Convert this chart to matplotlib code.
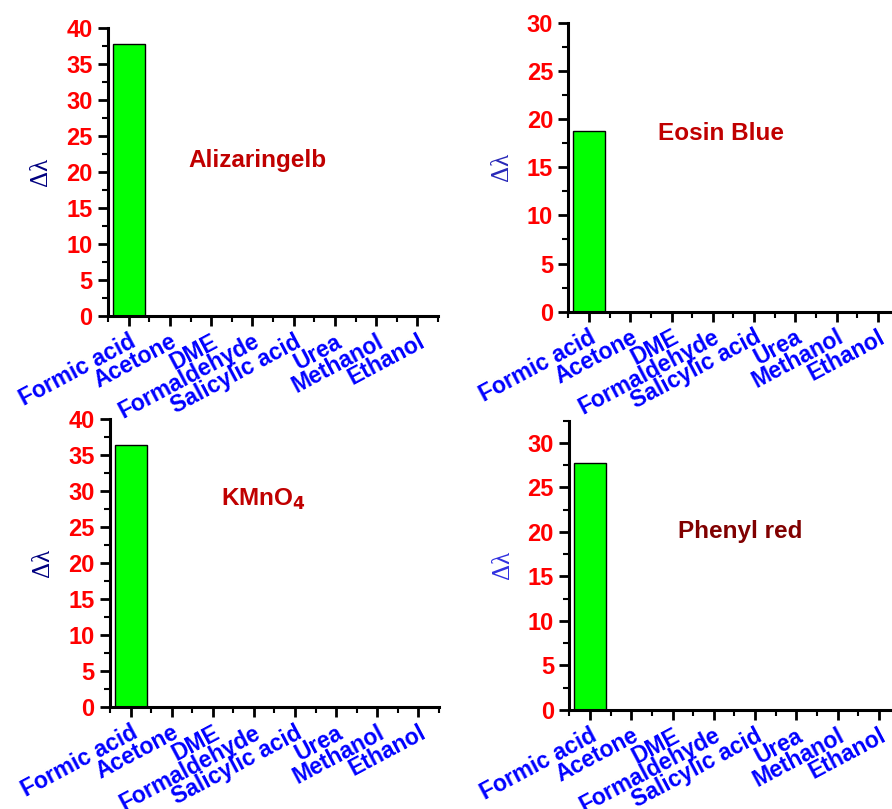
import matplotlib
matplotlib.use("Agg")
import matplotlib.pyplot as plt
from matplotlib.ticker import MultipleLocator

categories = ["Formic acid", "Acetone", "DME", "Formaldehyde",
              "Salicylic acid", "Urea", "Methanol", "Ethanol"]

alizaringelb = [37.7, 0, 0, 0, 0, 0, 0, 0]
eosin_blue = [18.8, 0, 0, 0, 0, 0, 0, 0]
kmno4 = [36.4, 0, 0, 0, 0, 0, 0, 0]
phenyl_red = [27.8, 0, 0, 0, 0, 0, 0, 0]

plt.rcParams['font.family'] = ['Liberation Sans', 'DejaVu Sans']

fig = plt.figure(figsize=(8.92, 8.09), dpi=100)

panels = [
    # values, title, axes rect, ylim, title pos, title colour, ylabel colour
    (alizaringelb, "Alizaringelb", [0.1211, 0.6094, 0.370, 0.3564], (0, 40), (3.12, 21.6), "#c00000", "#000080"),
    (eosin_blue, "Eosin Blue", [0.6371, 0.6147, 0.3704, 0.3572], (0, 30), (3.2, 18.5), "#c00000", "#2828b8"),
    (kmno4, "KMnO$_\\mathbf{4}$", [0.1233, 0.1257, 0.3688, 0.3564], (0, 40), (3.24, 28.8), "#c00000", "#000080"),
    (phenyl_red, "Phenyl red", [0.6382, 0.1224, 0.3704, 0.3576], (0, 32.5), (3.63, 20.1), "#800000", "#3030e0"),
]

x = list(range(len(categories)))

for vals, title, rect, ylim, tpos, tcol, lcol in panels:
    ax = fig.add_axes(rect)
    ax.bar(x, vals, width=0.78, color="#00ff00", edgecolor="black", linewidth=1)
    ax.set_xlim(-0.5, 7.5)
    ax.set_ylim(*ylim)
    for s in ["top", "right"]:
        ax.spines[s].set_visible(False)
    for s in ["left", "bottom"]:
        ax.spines[s].set_linewidth(2.2)
    ax.set_xticks(x)
    ax.set_xticklabels(categories, rotation=28, ha="right", rotation_mode="anchor",
                       color="blue", fontweight="bold", fontsize=16.5)
    ax.xaxis.set_minor_locator(MultipleLocator(0.5))
    ax.yaxis.set_major_locator(MultipleLocator(5))
    ax.yaxis.set_minor_locator(MultipleLocator(2.5))
    for lab in ax.get_yticklabels():
        lab.set_color("red")
        lab.set_fontweight("bold")
        lab.set_fontsize(17)
    ax.tick_params(which="major", length=7, width=2, direction="out")
    ax.tick_params(which="minor", length=4, width=1.5, direction="out")
    ax.tick_params(axis="x", pad=3)
    ax.tick_params(axis="y", pad=4)
    ax.set_ylabel("Δλ", color=lcol, fontsize=18, family=["Liberation Serif", "DejaVu Serif"],
                  labelpad=10)
    ax.text(tpos[0], tpos[1], title, color=tcol, fontsize=17.5, fontweight="bold",
            ha="center", va="center")

fig.savefig("out.png", dpi=100)
